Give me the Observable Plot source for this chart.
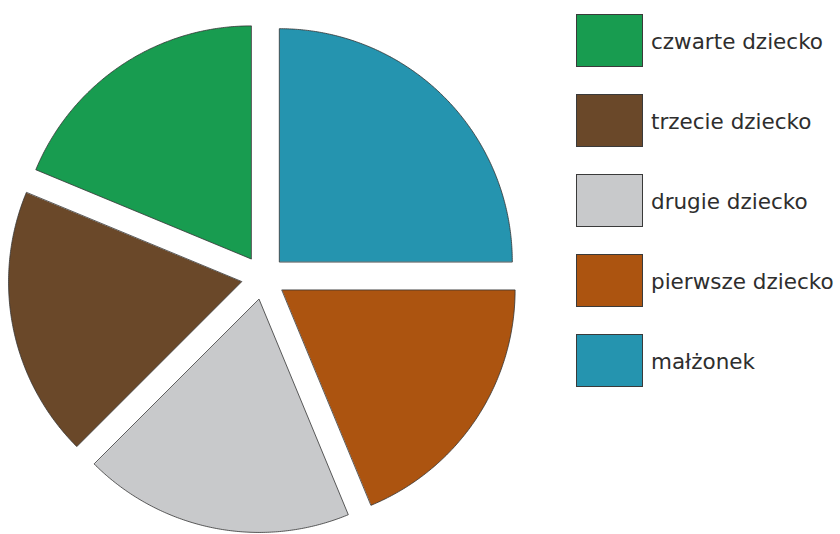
<!DOCTYPE html>
<html lang="pl">
<head>
<meta charset="utf-8">
<script src="https://cdn.jsdelivr.net/npm/d3@7"></script>
<script src="https://cdn.jsdelivr.net/npm/@observablehq/plot@0.6"></script>
<style>
  html, body { margin: 0; padding: 0; background: #fff; }
  #wrap { position: relative; width: 840px; height: 534px; overflow: hidden; }
  #chart { position: absolute; left: 0; top: 0; }
  #legend { position: absolute; left: 576px; top: 14px; font-family: "DejaVu Sans", sans-serif; font-size: 21.5px; color: #2e2e2e; }
  .item { display: flex; align-items: center; height: 53px; margin-bottom: 27px; }
  .sw { width: 65px; height: 51px; border: 1px solid #3a3a3a; flex: none; }
  .lab { margin-left: 8px; white-space: nowrap; position: relative; top: 1px; }
</style>
</head>
<body>
<div id="wrap">
  <div id="chart"></div>
  <div id="legend"></div>
</div>
<script>
// Data (clockwise from 12 o'clock)
const categories = ["małżonek", "pierwsze dziecko", "drugie dziecko", "trzecie dziecko", "czwarte dziecko"];
const values = [25, 18.75, 18.75, 18.75, 18.75];
const colors = ["#2594AF", "#AC5410", "#C8C9CB", "#6A4829", "#189C50"];
const legendOrder = ["czwarte dziecko", "trzecie dziecko", "drugie dziecko", "pierwsze dziecko", "małżonek"];

// Build slice outlines (unit radius) from the pie layout
const explode = 0.096;
const arcs = d3.pie().sort(null).value(d => d)(values);
const pts = [];
arcs.forEach((a, i) => {
  const mid = (a.startAngle + a.endAngle) / 2;
  const ox = explode * Math.sin(mid), oy = explode * Math.cos(mid);
  const cat = categories[i];
  pts.push({category: cat, x: ox, y: oy});
  const n = Math.max(2, Math.ceil((a.endAngle - a.startAngle) / (Math.PI / 360)));
  for (let k = 0; k <= n; k++) {
    const t = a.startAngle + (a.endAngle - a.startAngle) * k / n;
    pts.push({category: cat, x: ox + Math.sin(t), y: oy + Math.cos(t)});
  }
});

const cx = 263, cy = 277, R = 233;
const plot = Plot.plot({
  width: 576,
  height: 534,
  margin: 0,
  x: {domain: [-1, 1], range: [cx - R, cx + R], axis: null},
  y: {domain: [-1, 1], range: [cy + R, cy - R], axis: null},
  color: {domain: categories, range: colors},
  marks: [
    Plot.line(pts, {x: "x", y: "y", z: "category", fill: "category", stroke: "#333", strokeWidth: 0.8, curve: "linear-closed"})
  ]
});
document.getElementById("chart").appendChild(plot);

// Legend
const leg = document.getElementById("legend");
legendOrder.forEach(c => {
  const it = document.createElement("div");
  it.className = "item";
  const sw = document.createElement("div");
  sw.className = "sw";
  sw.style.background = colors[categories.indexOf(c)];
  const lb = document.createElement("div");
  lb.className = "lab";
  lb.textContent = c;
  it.appendChild(sw); it.appendChild(lb);
  leg.appendChild(it);
});
</script>
</body>
</html>
